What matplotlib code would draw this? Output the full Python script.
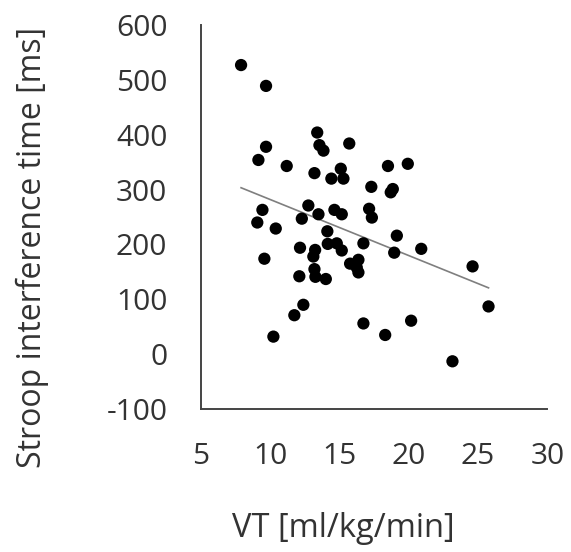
import matplotlib
matplotlib.use("Agg")
import matplotlib.pyplot as plt
import numpy as np

# VT [ml/kg/min] vs Stroop interference time [ms]
vt = [7.91, 9.71, 13.40, 13.56, 13.85, 15.71, 9.71, 9.16, 11.20, 13.20,
      14.42, 15.10, 15.29, 18.50, 19.93, 17.30, 18.85, 18.70, 9.45, 9.08,
      10.41, 12.76, 12.29, 13.49, 14.64, 15.17, 17.14, 17.34, 14.13, 14.16,
      14.81, 15.17, 16.73, 12.16, 13.25, 13.12, 9.59, 15.77, 16.37, 16.25,
      16.37, 13.20, 13.27, 14.02, 12.11, 12.40, 11.75, 16.73, 10.24, 19.14,
      18.95, 20.90, 24.60, 25.75, 20.17, 18.30, 23.15]
stroop = [527, 489, 404, 381, 371, 384, 378, 354, 343, 330,
          320, 338, 320, 343, 347, 305, 301, 295, 263, 240,
          229, 271, 247, 255, 263, 255, 265, 249, 224, 201,
          202, 189, 202, 194, 190, 178, 174, 165, 172, 158,
          149, 155, 141, 137, 142, 90, 71, 56, 32, 216,
          185, 192, 160, 87, 61, 35, -13]

x_ticks = [5, 10, 15, 20, 25, 30]
y_ticks = [-100, 0, 100, 200, 300, 400, 500, 600]

plt.rcParams["font.family"] = ["Open Sans", "DejaVu Sans"]
plt.rcParams["axes.unicode_minus"] = False
text_color = "#333333"

fig = plt.figure(figsize=(5.71, 5.52), dpi=100)
ax = fig.add_axes([0.3515, 0.259, 0.6073, 0.6957])

ax.scatter(vt, stroop, s=78, color="black", edgecolors="none", zorder=3)

# linear trend line over the data range
slope, intercept = np.polyfit(vt, stroop, 1)
xs = np.array([min(vt), max(vt)])
ax.plot(xs, slope * xs + intercept, color="#7f7f7f", linewidth=1.2, zorder=2)

ax.set_xlim(5, 30)
ax.set_ylim(-100, 600)
ax.set_xticks(x_ticks)
ax.set_yticks(y_ticks)
ax.tick_params(axis="both", length=0, labelsize=21.5, colors=text_color)
ax.tick_params(axis="x", pad=24)
ax.tick_params(axis="y", pad=24)

for side in ["top", "right"]:
    ax.spines[side].set_visible(False)
for side in ["left", "bottom"]:
    ax.spines[side].set_color("#444444")
    ax.spines[side].set_linewidth(1.4)

fig.text(0.057, 0.552, "Stroop interference time [ms]", rotation=90,
         ha="center", va="center", fontsize=23, color=text_color)
fig.text(0.6016, 0.042, "VT [ml/kg/min]", ha="center", va="center",
         fontsize=23.5, color=text_color)

fig.savefig("out.png", dpi=100)
